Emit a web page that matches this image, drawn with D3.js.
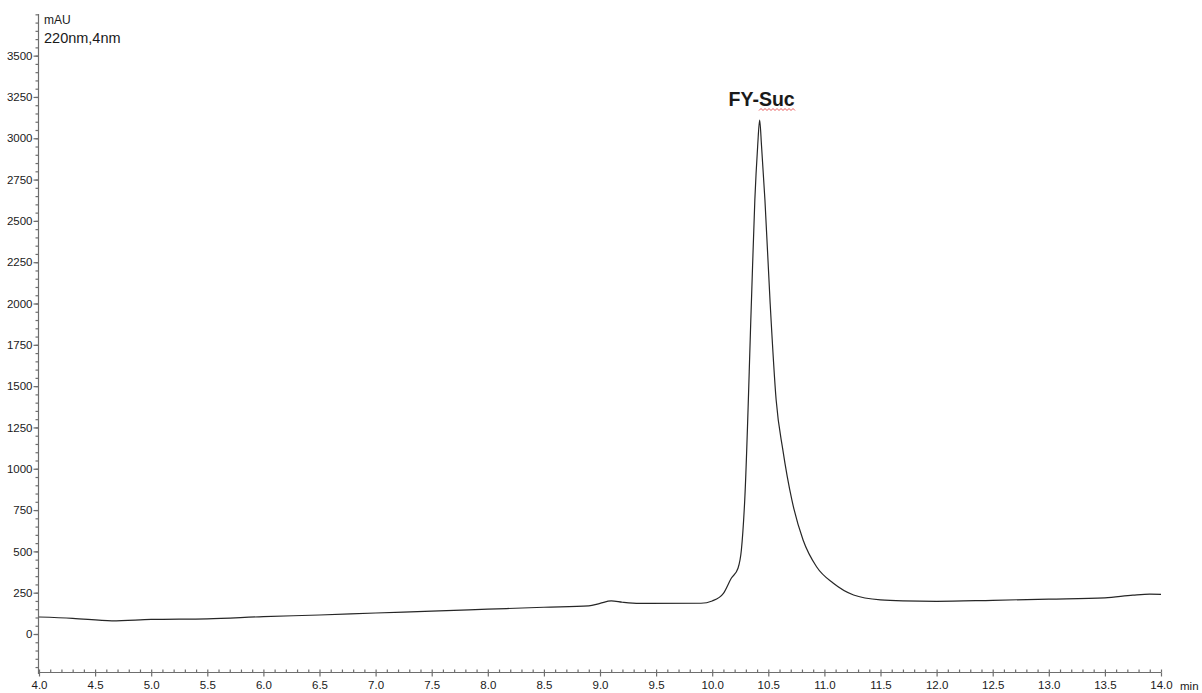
<!doctype html>
<html lang="en">
<head>
<meta charset="UTF-8">
<title>FY-Suc chromatogram</title>
<style>
  body { margin: 0; background: #fff; }
  svg text { font-family: "Liberation Sans", Arial, sans-serif; fill: #1a1a1a; }
</style>
</head>
<body>
<svg width="1202" height="693"></svg>
<script src="https://cdn.jsdelivr.net/npm/d3@7"></script>
<script>
// retention time (min) and absorbance (mAU)
const times = [4.0, 4.3, 4.65, 5.0, 5.5, 6.0, 6.5, 7.0, 7.5, 8.0, 8.5, 8.9, 9.0, 9.1, 9.2, 9.35, 9.9,
  10.0, 10.1, 10.17, 10.23, 10.26, 10.29, 10.35, 10.38, 10.405, 10.423, 10.44, 10.47, 10.515, 10.57,
  10.63, 10.71, 10.81, 10.93, 11.08, 11.26, 11.5, 11.7, 12.0, 12.5, 13.0, 13.5, 13.75, 13.9, 14.0];
const mau = [103, 95, 80, 88, 92, 105, 115, 127, 138, 150, 162, 170, 185, 200, 192, 185, 186,
  200, 246, 337, 398, 508, 811, 2021, 2626, 2950, 3110, 2950, 2626, 2021, 1416,
  1113, 811, 569, 407, 307, 236, 206, 200, 198, 204, 211, 219, 235, 241, 240];

const xMajor = d3.range(4, 14.01, 0.5);
const xMinor = d3.range(4, 14.01, 0.1);
const yMajor = d3.range(0, 3501, 250);
const yMinor = d3.range(-200, 3751, 50);

const peakLabel = { name: "FY-Suc", time: 10.423 };

const svg = d3.select("svg");
const x = d3.scaleLinear().domain([4, 14]).range([39, 1161]);
const y = d3.scaleLinear().domain([-236, 3752]).range([673, 14]);

const axisColor = "#6e6e6e";

// y axis
const gy = svg.append("g").attr("transform", "translate(38.5,0)");
gy.append("g")
  .call(d3.axisLeft(y).tickValues(yMinor).tickSize(3).tickFormat(""))
  .call(g => g.select(".domain").remove());
gy.append("g")
  .call(d3.axisLeft(y).tickValues(yMajor).tickSize(5).tickPadding(1).tickFormat(d3.format("d")))
  .call(g => g.select(".domain").remove())
  .call(g => g.selectAll("text").style("font-size", "11.5px"));
gy.append("line").attr("y1", y.range()[1]).attr("y2", y.range()[0] + 1);
gy.selectAll("line").attr("stroke", axisColor).attr("stroke-width", 1.2);

// x axis
const gx = svg.append("g").attr("transform", "translate(0,672.5)");
gx.append("g")
  .call(d3.axisBottom(x).tickValues(xMinor).tickSize(-3).tickFormat(""))
  .call(g => g.select(".domain").remove());
gx.append("g")
  .call(d3.axisBottom(x).tickValues(xMajor).tickSize(4).tickPadding(4).tickFormat(d3.format(".1f")))
  .call(g => g.select(".domain").remove())
  .call(g => g.selectAll("text").style("font-size", "11.5px"));
gx.append("line").attr("x1", x.range()[0]).attr("x2", x.range()[1]);
gx.selectAll("line").attr("stroke", axisColor).attr("stroke-width", 1.2);
gx.append("text").attr("x", 1180).attr("y", 17).style("font-size", "11.5px").text("min");

// titles
svg.append("text").attr("x", 44).attr("y", 24).style("font-size", "12px").text("mAU");
svg.append("text").attr("x", 44).attr("y", 43).style("font-size", "14.5px").text("220nm,4nm");

// trace
const line = d3.line()
  .x((d, i) => x(times[i]))
  .y(d => y(d))
  .curve(d3.curveMonotoneX);
svg.append("path")
  .datum(mau)
  .attr("fill", "none")
  .attr("stroke", "#262626")
  .attr("stroke-width", 1.2)
  .attr("d", line);

// peak label
const px = x(peakLabel.time);
svg.append("text")
  .attr("x", px + 2).attr("y", 106)
  .attr("text-anchor", "middle")
  .style("font-size", "19.5px").style("font-weight", "bold")
  .text(peakLabel.name);

// spell-check squiggle under "Suc"
const sq = [];
for (let i = 0; i <= 18; i++) sq.push([759 + i * 2, 109.5 + (i % 2 ? -1 : 1)]);
svg.append("path")
  .attr("d", d3.line()(sq))
  .attr("fill", "none").attr("stroke", "#e03030").attr("stroke-width", 0.8);
</script>
</body>
</html>
